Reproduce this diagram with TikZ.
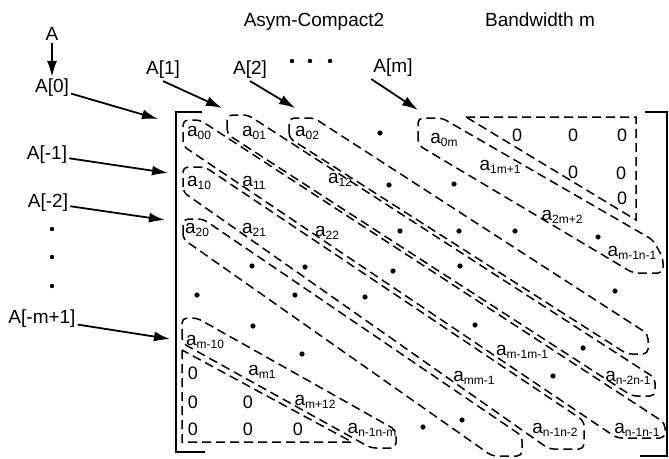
\documentclass[tikz,border=0pt]{standalone}
\usepackage{fontspec}
\setmainfont{Liberation Sans}
\usetikzlibrary{arrows.meta}
\newcommand{\el}[1]{a\raisebox{-3pt}{\fontsize{12}{13}\selectfont #1}}

\begin{document}
\begin{tikzpicture}[
    x=1pt, y=-1pt,
    >={Latex[length=16pt,width=10pt]},
    lbl/.style={font=\fontsize{19}{21}\selectfont, inner sep=2pt},
    elt/.style={font=\fontsize{19}{21}\selectfont, inner sep=0pt},
    zero/.style={font=\fontsize{18}{20}\selectfont, inner sep=0pt},
    band/.style={draw, line width=1.5pt, dash pattern=on 9pt off 5pt, rounded corners=5pt},
    brk/.style={draw, line width=2.2pt},
    arr/.style={->, line width=1.8pt}
  ]
  \useasboundingbox (0,0) rectangle (669,458);

  % titles
  \node[lbl] (title) at (314,22) {Asym-Compact2};
  \node[lbl] (bw) at (540,20) {Bandwidth m};

  % diagonal names
  \node[lbl] (lA) at (52,34) {A};
  \node[lbl] (lA0) at (52,88) {A[0]};
  \node[lbl] (lAn1) at (47,155) {A[-1]};
  \node[lbl] (lAn2) at (48,203) {A[-2]};
  \node[lbl] (lAnm) at (42,319) {A[-m+1]};
  \node[lbl] (lA1) at (163,70) {A[1]};
  \node[lbl] (lA2) at (250,70) {A[2]};
  \node[lbl] (lAm) at (393,68) {A[m]};

  \coordinate (t0) at (158,119);
  \coordinate (tn1) at (168,173);
  \coordinate (tn2) at (165,220);
  \coordinate (tnm) at (170,339);
  \coordinate (t1) at (222,108);
  \coordinate (t2) at (295,108);
  \coordinate (tm) at (418,110);

  \draw[arr] (lA) -- (lA0);
  \draw[arr] (lA0) -- (t0);
  \draw[arr] (lAn1) -- (tn1);
  \draw[arr] (lAn2) -- (tn2);
  \draw[arr] (lAnm) -- (tnm);
  \draw[arr] (lA1.south) -- (t1);
  \draw[arr] (lA2.south) -- (t2);
  \draw[arr] (lAm.south west) -- (tm);

  % dots
  \foreach \x/\y in {292/61, 310/61, 330/61, 52/229, 52/257, 52/286}
    \fill (\x,\y) circle (2.2);
  \foreach \x/\y in {380/133, 389/185, 454/184, 400/231, 459/231, 515/231, 598/237,
                     252/266, 305/267, 393/271, 460/266, 615/291, 197/295, 295/295,
                     365/297, 253/326, 475/325, 583/348, 553/376, 302/354, 423/427, 462/420}
    \fill (\x,\y) circle (2.6);

  % brackets
  \draw[brk] (202,112) -- (176,112) -- (176,452) -- (205,452);
  \draw[brk] (645,112) -- (667,112) -- (667,456) -- (640,456);

  % bands
  \draw[band] (183,146) -- (183,120) -- (200,120) -- (665,423) -- (665,438) -- (617,438) -- cycle;
  \draw[band] (227,134) -- (227,115) -- (248,115) -- (655,378) -- (655,396) -- (632,396) -- cycle;
  \draw[band] (289,138) -- (289,118) -- (314,118) -- (648,334) -- (648,354) -- (627,354) -- cycle;
  \draw[band] (418,145) -- (418,118) -- (442,118) -- (653,240) -- (663,258) -- (663,273) -- (633,273) -- cycle;
  \draw[band] (183,192) -- (183,167) -- (205,167) -- (584,421) -- (584,449) -- (549,449) -- cycle;
  \draw[band] (183,239) -- (183,219) -- (203,219) -- (522,436) -- (522,456) -- (492,456) -- cycle;
  \draw[band] (182,343) -- (182,318) -- (197,318) -- (396,430) -- (396,448) -- (371,448) -- cycle;
  % zero triangles
  \draw[band, rounded corners=0pt] (466,117) -- (636,117) -- (636,220) -- cycle;
  \draw[band, rounded corners=0pt] (182,350) -- (182,442) -- (352,442) -- cycle;

  % elements
  \node[elt] (a00) at (199,133) {\el{00}};
  \node[elt] (a01) at (254,133) {\el{01}};
  \node[elt] (a02) at (307,133) {\el{02}};
  \node[elt] (a0m) at (444,140) {\el{0m}};
  \node[elt] (a10) at (199,183) {\el{10}};
  \node[elt] (a11) at (254,183) {\el{11}};
  \node[elt] (a12) at (340,180) {\el{12}};
  \node[elt] (a1m) at (500,167) {\el{1m+1}};
  \node[elt] (a20) at (197,230) {\el{20}};
  \node[elt] (a21) at (254,230) {\el{21}};
  \node[elt] (a22) at (327,233) {\el{22}};
  \node[elt] (a2m) at (562,217) {\el{2m+2}};
  \node[elt] (amn) at (632,253) {\el{m-1n-1}};
  \node[elt] (am0) at (205,342) {\el{m-10}};
  \node[elt] (am1) at (262,372) {\el{m1}};
  \node[elt] (am2) at (315,402) {\el{m+12}};
  \node[elt] (anm) at (372,430) {\el{n-1n-m}};
  \node[elt] (amm) at (522,352) {\el{m-1m-1}};
  \node[elt] (ammb) at (474,378) {\el{mm-1}};
  \node[elt] (ann2) at (628,378) {\el{n-2n-1}};
  \node[elt] (an12) at (555,430) {\el{n-1n-2}};
  \node[elt] (an11) at (637,430) {\el{n-1n-1}};

  % zeros
  \node[zero] (zu1) at (517,135) {0};
  \node[zero] (zu2) at (573,135) {0};
  \node[zero] (zu3) at (622,135) {0};
  \node[zero] (zu4) at (573,172) {0};
  \node[zero] (zu5) at (621,173) {0};
  \node[zero] (zu6) at (622,198) {0};
  \node[zero] (zl1) at (193,373) {0};
  \node[zero] (zl2) at (193,402) {0};
  \node[zero] (zl3) at (248,402) {0};
  \node[zero] (zl4) at (193,429) {0};
  \node[zero] (zl5) at (248,429) {0};
  \node[zero] (zl6) at (298,429) {0};
\end{tikzpicture}
\end{document}
